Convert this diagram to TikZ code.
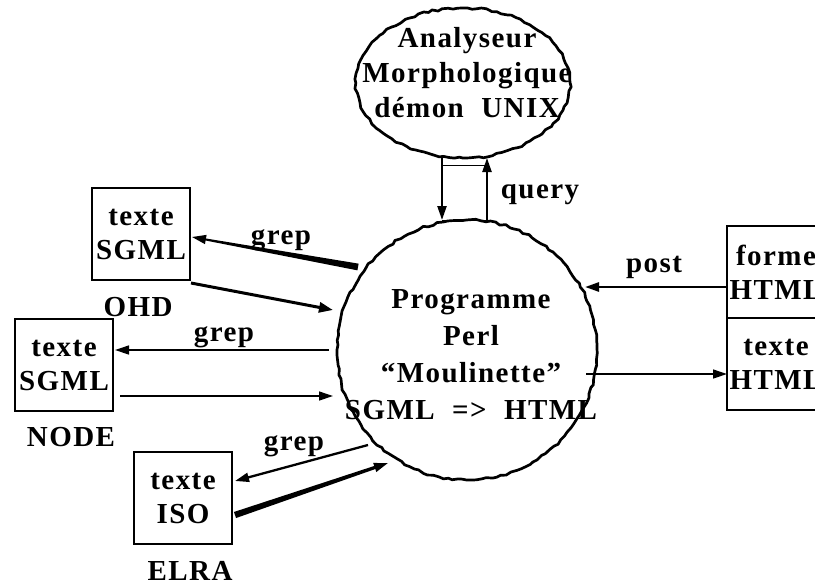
\documentclass[tikz,border=0pt]{standalone}
\usepackage{fontspec}
\setmainfont{Liberation Serif}[BoldFont={Liberation Serif Bold}, LetterSpace=5]
\usetikzlibrary{arrows.meta,decorations.pathmorphing,calc}
\begin{document}
\begin{tikzpicture}[x=1pt,y=-1pt,
  lbl/.style={font=\fontsize{29}{34}\selectfont\bfseries, inner sep=0pt, align=center},
  rough/.style={line width=2.7pt, line join=round, decorate, decoration={random steps, segment length=5pt, amplitude=1.1pt}},
  box/.style={draw, line width=2.2pt, minimum width=98pt, minimum height=92pt, inner sep=0pt, align=center, font=\fontsize{29}{34}\selectfont\bfseries},
  tip/.style={-{Triangle[length=14pt,width=9pt]}},
  thinarr/.style={tip, line width=1.3pt},
  medarr/.style={tip, line width=2.3pt},
  thickarr/.style={-{Triangle[length=14pt,width=10pt]}, line width=3pt}
]
\useasboundingbox (0,0) rectangle (815,587);
\clip (0,0) rectangle (815,587);
\pgfmathsetseed{7}
% shapes
\coordinate (anac) at (463,83);
\coordinate (progc) at (467,350);
\draw[rough] (anac) ellipse [x radius=107pt, y radius=75pt];
\draw[rough] (progc) circle [radius=130pt];
\node[lbl, font=\fontsize{29}{35}\selectfont\bfseries] (anatext) at (467,73) {Analyseur\\Morphologique\\démon\ \ UNIX};
\node[lbl, font=\fontsize{29}{37}\selectfont\bfseries] (progtext) at (471,355) {Programme\\Perl\\“Moulinette”\\SGML\ \ =>\ \ HTML};
% boxes
\node[box] (ohd) at (141,234) {texte\\SGML};
\node[lbl] (ohdl) at (138,307) {OHD};
\node[box] (nodebox) at (64,365) {texte\\SGML};
\node[lbl] (nodel) at (71,437) {NODE};
\node[box] (iso) at (183,498) {texte\\ISO};
\node[lbl] (elral) at (190,571) {ELRA};
\node[box] (forme) at (776,272) {forme\\HTML};
\node[box] (texth) at (776,364) {texte\\HTML};
% top connection
\coordinate (t1) at (442,157);
\coordinate (t2) at (442,220);
\coordinate (t3) at (487,220);
\coordinate (t4) at (487,158);
\coordinate (h1) at (442,165);
\coordinate (h2) at (487,165);
\draw[line width=1pt] (h1) -- (h2);
\draw[line width=1pt] (t2) -- (t3);
\draw[medarr] (t1) -- (t2);
\draw[medarr] (t3) -- (t4);
\node[lbl] (query) at (540,195) {query};
% OHD
\coordinate (a1) at (358,267);
\coordinate (a2) at (192,237);
\coordinate (a2s) at ($(a2)!12pt!(a1)$);
\fill ($(a1)!3.4pt!90:(a2)$) -- ($(a1)!3.4pt!-90:(a2)$) -- ($(a2s)!1pt!90:(a1)$) -- ($(a2s)!1pt!-90:(a1)$) -- cycle;
\draw[tip, line width=1.5pt] (a2s) -- (a2);
\node[lbl] (grep1) at (281,240) {grep};
\coordinate (b1) at (191,283);
\coordinate (b2) at (333,310);
\draw[thickarr] (b1) -- (b2);
% NODE
\coordinate (c1) at (329,350);
\coordinate (c2) at (115,350);
\draw[thinarr] (c1) -- (c2);
\node[lbl] (grep2) at (224,337) {grep};
\coordinate (d1) at (120,396);
\coordinate (d2) at (333,396);
\draw[thinarr] (d1) -- (d2);
% ISO
\coordinate (e1) at (368,445);
\coordinate (e2) at (235,481);
\draw[medarr] (e1) -- (e2);
\node[lbl] (grep3) at (294,446) {grep};
\coordinate (f1) at (235,515);
\coordinate (f2) at (388,463);
\coordinate (f2s) at ($(f2)!12pt!(f1)$);
\fill ($(f1)!3.2pt!90:(f2)$) -- ($(f1)!3.2pt!-90:(f2)$) -- ($(f2s)!1.6pt!90:(f1)$) -- ($(f2s)!1.6pt!-90:(f1)$) -- cycle;
\draw[tip, line width=2pt] (f2s) -- (f2);
% HTML
\coordinate (g1) at (727,287);
\coordinate (g2) at (585,287);
\draw[medarr, line width=2.6pt] (g1) -- (g2);
\node[lbl] (post) at (654,267) {post};
\coordinate (k1) at (586,374);
\coordinate (k2) at (727,374);
\draw[thinarr] (k1) -- (k2);
\end{tikzpicture}
\end{document}
